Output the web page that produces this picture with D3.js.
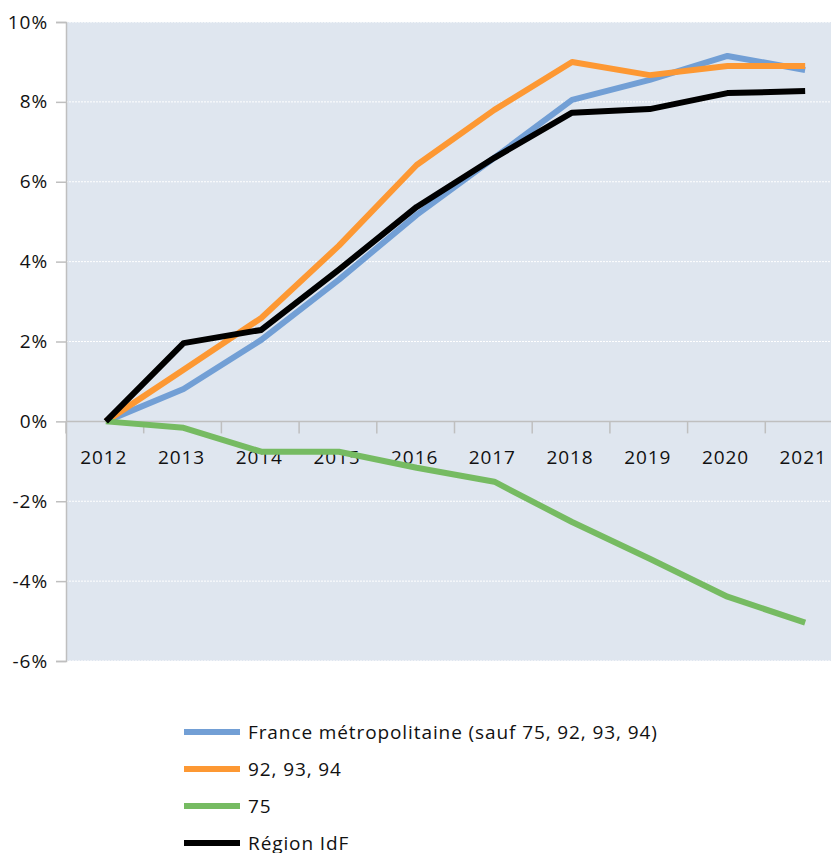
<!DOCTYPE html>
<html>
<head>
	<meta charset="utf-8">
	<title>Evolution</title>
	<script src="https://cdn.jsdelivr.net/npm/d3@7"></script>
	<style>
		body { margin: 0; background: #fff; font-family: "Open Sans", "Noto Sans", sans-serif; }
		svg { display: block; }
	</style>
</head>
<body>
<div id="chart"></div>
<script>
	// data
	const years = ["2012", "2013", "2014", "2015", "2016", "2017", "2018", "2019", "2020", "2021"];
	const france = [0, 0.81, 2.04, 3.55, 5.17, 6.6, 8.05, 8.55, 9.15, 8.8];
	const petiteCouronne = [0, 1.29, 2.59, 4.4, 6.42, 7.8, 9.0, 8.67, 8.9, 8.9];
	const paris = [0, -0.16, -0.76, -0.76, -1.16, -1.51, -2.52, -3.44, -4.39, -5.04];
	const idf = [0, 1.96, 2.29, 3.8, 5.37, 6.6, 7.73, 7.82, 8.22, 8.27];
	const yTicks = [-6, -4, -2, 0, 2, 4, 6, 8, 10];

	const series = [
		{ name: "France métropolitaine (sauf 75, 92, 93, 94)", values: france, color: "#729fd5" },
		{ name: "92, 93, 94", values: petiteCouronne, color: "#fd9833" },
		{ name: "75", values: paris, color: "#76bb62" },
		{ name: "Région IdF", values: idf, color: "#000000" }
	];

	const width = 831, height = 853;
	const marginLeft = 66, plotRight = 843, marginTop = 22, plotBottom = 661;
	const font = "'Open Sans', 'Noto Sans', sans-serif";
	const fontSize = "19px";
	const spacing = "0.9px";

	const svg = d3.select("#chart").append("svg")
		.attr("width", width)
		.attr("height", height);

	const x = d3.scaleBand(years, [marginLeft, plotRight]);
	const y = d3.scaleLinear([-6, 10], [plotBottom, marginTop]);

	// plot background
	svg.append("rect")
		.attr("x", marginLeft).attr("y", marginTop)
		.attr("width", plotRight - marginLeft).attr("height", plotBottom - marginTop)
		.attr("fill", "#dfe6ef");

	// gridlines
	svg.append("g")
		.selectAll("line")
		.data(yTicks.filter(d => d !== 0))
		.join("line")
		.attr("x1", marginLeft).attr("x2", plotRight)
		.attr("y1", d => y(d)).attr("y2", d => y(d))
		.attr("stroke", "#fff")
		.attr("stroke-width", 1)
		.attr("stroke-dasharray", "2,1");

	// y axis
	const yAxis = d3.axisLeft(y).tickValues(yTicks).tickSize(10).tickPadding(8)
		.tickFormat(d => d + "%");
	svg.append("g")
		.attr("transform", `translate(${marginLeft},0)`)
		.call(yAxis)
		.call(g => g.select(".domain").attr("stroke", "#bfbfbf").attr("stroke-width", 1.5))
		.call(g => g.selectAll(".tick line").attr("stroke", "#bfbfbf").attr("stroke-width", 1.5))
		.call(g => g.selectAll(".tick text")
			.attr("fill", "#111")
			.style("font-size", fontSize)
			.style("letter-spacing", spacing)
			.style("font-family", font));

	// x axis at 0%
	const xg = svg.append("g").attr("transform", `translate(0,${y(0)})`);
	xg.append("line")
		.attr("x1", marginLeft).attr("x2", plotRight)
		.attr("stroke", "#bfbfbf").attr("stroke-width", 1.5);
	xg.selectAll("line.tk")
		.data(years)
		.join("line")
		.attr("class", "tk")
		.attr("x1", d => x(d)).attr("x2", d => x(d))
		.attr("y1", 0).attr("y2", 12)
		.attr("stroke", "#bfbfbf").attr("stroke-width", 1.5);
	xg.selectAll("text")
		.data(years)
		.join("text")
		.attr("x", d => x(d) + x.bandwidth() / 2 - 1)
		.attr("y", 43)
		.attr("text-anchor", "middle")
		.attr("fill", "#111")
		.style("font-size", fontSize)
		.style("letter-spacing", spacing)
		.style("font-family", font)
		.text(d => d);

	// lines
	const line = d3.line()
		.x((d, i) => x(years[i]) + x.bandwidth() / 2 + 1)
		.y(d => y(d));

	svg.append("g")
		.selectAll("path")
		.data(series)
		.join("path")
		.attr("d", d => line(d.values))
		.attr("fill", "none")
		.attr("stroke", d => d.color)
		.attr("stroke-width", 6)
		.attr("stroke-linejoin", "round");

	// legend
	const legend = svg.append("g")
		.selectAll("g")
		.data(series)
		.join("g")
		.attr("transform", (d, i) => `translate(184,${732 + i * 37})`);
	legend.append("line")
		.attr("x1", 0).attr("x2", 56)
		.attr("stroke", d => d.color)
		.attr("stroke-width", 6);
	legend.append("text")
		.attr("x", 64)
		.attr("y", 7)
		.attr("fill", "#111")
		.style("font-size", fontSize)
		.style("letter-spacing", spacing)
		.style("font-family", font)
		.text(d => d.name);
</script>
</body>
</html>
